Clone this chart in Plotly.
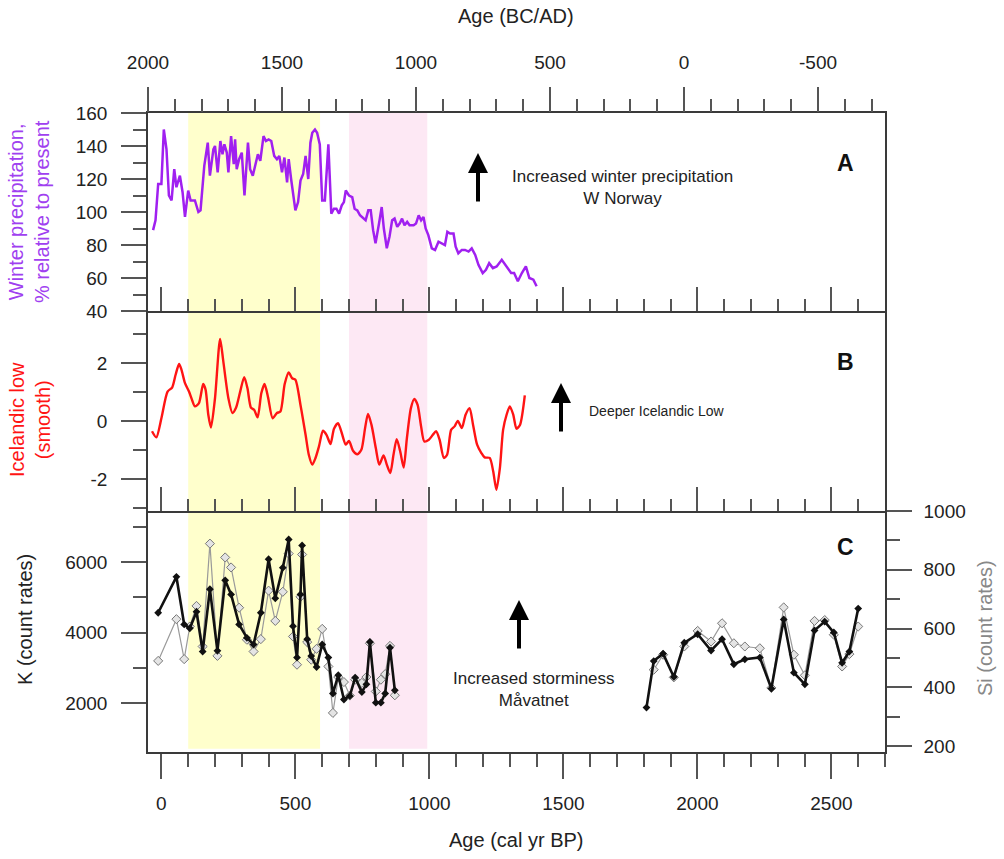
import plotly.graph_objects as go

# ---------------- data ----------------
# Panel A: winter precipitation (% relative to present)
age_a = [-31, -22, -12, 0, 9, 19, 28, 38, 48, 56,
         69, 79, 88, 100, 109, 125, 138, 146, 160, 173,
         181, 194, 200, 210, 220, 228, 235, 244, 250, 260,
         270, 275, 281, 290, 300, 310, 323, 331, 341, 350,
         360, 369, 381, 390, 400, 410, 421, 431, 440, 450,
         459, 469, 475, 484, 491, 500, 510, 519, 529, 538,
         548, 556, 563, 573, 581, 591, 600, 610, 623, 634,
         644, 653, 663, 673, 681,
         688, 700, 712, 721, 731, 741, 749, 762, 772, 781,
         790, 799, 812, 822, 830, 841, 851, 861, 870, 880,
         889, 898, 907, 917, 926, 941, 950, 960, 969, 978,
         986, 996, 1009, 1021, 1034, 1046, 1058, 1067, 1077, 1090,
         1098, 1108, 1121, 1133, 1146, 1158, 1171, 1183, 1199, 1211,
         1223, 1237, 1251, 1270, 1282, 1295, 1305, 1316, 1330, 1345,
         1360, 1373, 1388, 1400]
precip_a = [89, 95, 117, 117, 150, 138, 110, 107, 126, 115,
            122, 112, 97, 113, 107, 107, 100, 101, 128, 142,
            122, 138, 140, 124, 143, 135, 141, 136, 124, 146,
            129, 144, 126, 132, 136, 110, 142, 126, 122, 129,
            135, 131, 146, 143, 144, 143, 134, 132, 134, 124,
            133, 118, 132, 120, 110, 101, 106, 119, 123, 134,
            120, 142, 148, 150, 148, 141, 107, 107, 141, 99,
            102, 102, 99, 104, 106,
            113, 110, 109, 102, 101, 98, 97, 95, 101, 101,
            89, 81, 93, 103, 90, 78, 85, 95, 96, 91,
            93, 96, 92, 94, 92, 92, 93, 98, 95, 97,
            90, 86, 78, 77, 82, 81, 80, 88, 87, 87,
            79, 75, 77, 77, 76, 78, 74, 68, 63, 65,
            69, 66, 67, 71, 68, 65, 63, 63, 58, 63,
            67, 60, 59, 55]

# Panel B: Icelandic low (smooth)
age_b = [-35, -19, 0, 23, 40, 53, 66, 75, 88, 103,
         113, 125, 140, 156, 165, 175, 185, 200, 219, 231,
         250, 265, 278, 294, 309, 321, 334, 346, 359, 373,
         385, 398, 415, 431, 444, 460, 475, 488, 500, 519,
         538, 550, 563, 575, 588, 603, 616, 631, 644, 659,
         673, 688, 700, 715, 731, 746, 760, 771, 784, 800,
         813, 829, 841, 854, 866, 878, 891, 904, 916, 931,
         944, 956, 969, 981, 998, 1013, 1025, 1038, 1054, 1066,
         1081, 1094, 1106, 1121, 1135, 1150, 1163, 1178, 1194, 1206,
         1225, 1238, 1250, 1263, 1275, 1288, 1300, 1313, 1325, 1338,
         1356]
icl_b = [-0.34, -0.55, 0.11, 1.03, 1.17, 1.61, 1.98, 1.78, 1.32, 1.03,
         0.78, 0.52, 0.63, 1.29, 1.09, 0.23, -0.21, 0.80, 2.85, 2.07,
         0.80, 0.29, 0.46, 1.03, 1.53, 1.15, 0.48, 0.40, 0.14, 0.98,
         1.29, 0.83, 0.11, 0.29, 0.34, 1.29, 1.69, 1.49, 1.44, 0.57,
         -0.46, -1.15, -1.49, -1.26, -0.86, -0.32, -0.46, -0.78, -0.25, -0.06,
         -0.40, -0.80, -0.67, -1.01, -1.13, -0.98, -0.23, 0.26, -0.12, -0.92,
         -1.49, -1.17, -1.49, -1.78, -1.15, -0.61, -1.03, -1.59, -0.58, 0.46,
         0.78, 0.57, -0.17, -0.69, -0.63, -0.46, -0.34, -0.63, -1.26, -1.15,
         -0.29, -0.17, 0.02, -0.23, 0.23, 0.46, -0.12, -0.80, -1.09, -1.24,
         -1.26, -1.72, -2.36, -1.61, -0.29, 0.23, 0.52, 0.23, -0.25, -0.12,
         0.90]

# Panel C: K and Si count rates (two core sections)
age_c1 = [-12, 56, 85, 106, 131, 154, 181, 209, 238, 260,
          290, 319, 344, 371, 400, 425, 453, 475, 491, 506,
          519, 525, 544, 559, 579, 600, 623, 640, 660, 681,
          703, 723, 748, 765, 778, 800, 819, 835, 853, 871]
k_c1 = [4560, 5580, 4230, 4120, 4590, 3460, 5230, 3480, 5480, 5080,
        4230, 3850, 3660, 4560, 6080, 4970, 5840, 6640, 4180, 3290,
        5080, 6470, 3810, 3330, 3020, 3660, 3290, 2270, 2790, 2100,
        2200, 2720, 2310, 2530, 3730, 2010, 2010, 2270, 3570, 2360]
si_c1 = [490, 632, 496, 607, 677, 539, 889, 507, 842, 808,
         671, 562, 522, 564, 729, 626, 725, 855, 573, 477,
         708, 852, 554, 494, 531, 599, 471, 313, 435, 418,
         372, 426, 415, 435, 550, 386, 426, 445, 541, 373]

age_c2 = [1810, 1837, 1872, 1912, 1951, 2001, 2051, 2092, 2136, 2177,
          2233, 2276, 2322, 2360, 2401, 2437, 2475, 2509, 2540, 2567,
          2600]
k_c2 = [1870, 3190, 3400, 2740, 3710, 3950, 3490, 3810, 3100, 3240,
        3290, 2410, 4370, 2860, 2530, 4060, 4310, 4000, 3140, 3460,
        4680]
age_si2 = age_c2[1:]
si_c2 = [460, 511, 434, 539, 592, 556, 618, 550, 539, 533,
         398, 672, 511, 441, 626, 629, 579, 471, 513, 607]

# Shaded periods (cal yr BP)
yellow_period = [100, 592]
pink_period = [700, 992]

# Tick labels
ad_ticks = [2000, 1500, 1000, 500, 0, -500]
ad_labels = ["2000", "1500", "1000", "500", "0", "-500"]
icl_ticks = [-2, 0, 2]
icl_labels = ["-2", "0", "2"]

# ---------------- figure ----------------
FONT = "Liberation Sans, Arial, sans-serif"
LINEC = "#3a3a3a"
TICKC = "#555"
PURPLE = "#A020F0"
RED = "#FF1414"
TICKFS = 19

W, H = 1004, 859
L, R, T, B = 148, 885, 113, 752


def px(xp):
    return (xp - L) / (R - L)


def py(yp):
    return (B - yp) / (B - T)


dA = [py(311), 1.0]
dB = [py(511), py(311)]
dC = [0.0, py(511)]

fig = go.Figure()

fig.add_trace(go.Scatter(x=age_a, y=precip_a, mode="lines",
                         line=dict(color=PURPLE, width=2.5),
                         xaxis="x2", yaxis="y", hoverinfo="skip"))
fig.add_trace(go.Scatter(x=age_b, y=icl_b, mode="lines",
                         line=dict(color=RED, width=2.4, shape="spline", smoothing=0.7),
                         xaxis="x3", yaxis="y2", hoverinfo="skip"))

si_x = age_c1 + [None] + age_si2
si_y = si_c1 + [None] + si_c2
k_x = age_c1 + [None] + age_c2
k_y = k_c1 + [None] + k_c2

fig.add_trace(go.Scatter(x=si_x, y=si_y, mode="lines+markers",
                         line=dict(color="#9a9a9a", width=1.2),
                         marker=dict(symbol="diamond", size=7, color="#e4e4e4",
                                     line=dict(color="#777", width=1)),
                         connectgaps=False, xaxis="x", yaxis="y3", hoverinfo="skip"))
fig.add_trace(go.Scatter(x=k_x, y=k_y, mode="lines+markers",
                         line=dict(color="#111", width=2.6),
                         marker=dict(symbol="diamond", size=6, color="#111"),
                         connectgaps=False, xaxis="x", yaxis="y4", hoverinfo="skip"))
# empty trace so the top (BC/AD) axis is drawn
fig.add_trace(go.Scatter(x=[], y=[], xaxis="x4", yaxis="y", showlegend=False, hoverinfo="skip"))

common_line = dict(showline=True, linecolor=LINEC, linewidth=1.5, showgrid=False,
                   zeroline=False, tickcolor=TICKC, tickwidth=1.5,
                   tickfont=dict(family=FONT, size=TICKFS, color="#222"))


def minor(dt, inside=False, ln=13, **kw):
    return dict(dtick=dt, tick0=0, ticks="inside" if inside else "outside", ticklen=ln,
                tickcolor=TICKC, tickwidth=1.5, **kw)


xrange_bp = [-50, 2700]

fig.update_layout(
    width=W, height=H,
    margin=dict(l=L, r=W - R, t=T, b=H - B),
    paper_bgcolor="white", plot_bgcolor="rgba(0,0,0,0)",
    showlegend=False,
    font=dict(family=FONT, color="#222"),
    xaxis=dict(domain=[0, 1], anchor="y3", range=xrange_bp, tick0=0, dtick=500,
               ticks="outside", ticklen=25, mirror=False, ticklabelstandoff=8,
               minor=minor(100), **common_line),
    xaxis2=dict(domain=[0, 1], anchor="y", range=xrange_bp, tick0=0, dtick=500,
                ticks="inside", ticklen=24, mirror=True, showticklabels=False,
                minor=minor(100, inside=True, ln=12), **common_line),
    xaxis3=dict(domain=[0, 1], anchor="y2", range=xrange_bp, tick0=0, dtick=500,
                ticks="inside", ticklen=24, mirror=False, showticklabels=False,
                minor=minor(100, inside=True, ln=12), **common_line),
    xaxis4=dict(overlaying="x2", anchor="y", side="top",
                range=[1950 - xrange_bp[0], 1950 - xrange_bp[1]],
                tickmode="array", tickvals=ad_ticks, ticktext=ad_labels,
                ticks="outside", ticklen=25, ticklabelstandoff=10,
                minor=minor(100),
                showline=False, showgrid=False, zeroline=False,
                tickcolor=TICKC, tickwidth=1.5,
                tickfont=dict(family=FONT, size=TICKFS, color="#222")),
    yaxis=dict(domain=dA, anchor="x2", range=[40, 160], tick0=0, dtick=20,
               ticks="outside", ticklen=25, mirror=True, ticklabelstandoff=10,
               minor=minor(10), **common_line),
    yaxis2=dict(domain=dB, anchor="x3", range=[-3.09, 3.81],
                tickmode="array", tickvals=icl_ticks, ticktext=icl_labels,
                ticks="outside", ticklen=25, mirror=True, ticklabelstandoff=10,
                minor=minor(1), **common_line),
    yaxis3=dict(domain=dC, anchor="x", side="right", range=[180, 1000], tick0=0, dtick=200,
                ticks="outside", ticklen=25, ticklabelstandoff=8,
                minor=minor(100), **common_line),
    yaxis4=dict(overlaying="y3", anchor="x", side="left", range=[610, 7447],
                tickmode="array", tickvals=[2000, 4000, 6000],
                ticks="outside", ticklen=25, ticklabelstandoff=10,
                minor=dict(tickmode="array", tickvals=[3000, 5000, 7000],
                           ticks="outside", ticklen=13, tickcolor=TICKC, tickwidth=1.5),
                **common_line),
)

# shaded periods
for (x0, x1), col in [(yellow_period, "#FFFFCC"), (pink_period, "#FDE8F4")]:
    fig.add_shape(type="rect", xref="x", yref="paper", x0=x0, x1=x1, y0=0.005, y1=1,
                  fillcolor=col, line=dict(width=0), layer="below")

ann = []


def text(t, xp, yp, size=17, color="#222", angle=0, xanchor="center", bold=False):
    ann.append(dict(text=("<b>%s</b>" % t) if bold else t, x=px(xp), y=py(yp),
                    xref="paper", yref="paper", showarrow=False, textangle=angle,
                    xanchor=xanchor, yanchor="middle",
                    font=dict(family=FONT, size=size, color=color)))


text("Age (BC/AD)", 516, 16, size=20)
text("Age (cal yr BP)", 516, 840, size=20)
text("Winter precipitation,<br>% relative to present", 29, 212, size=20, color="#A040F0", angle=-90)
text("Icelandic low<br>(smooth)", 30, 420, size=20, color=RED, angle=-90)
text("K (count rates)", 25, 620, size=20, color="#222", angle=-90)
text("Si (count rates)", 985, 628, size=20, color="#888", angle=-90)
text("A", 845, 163, size=23, color="#111", bold=True)
text("B", 845, 362, size=23, color="#111", bold=True)
text("C", 845, 547, size=23, color="#111", bold=True)
text("Increased winter precipitation<br>W Norway", 622, 187, size=17)
text("Deeper Icelandic Low", 587, 411, size=14, xanchor="left")
text("Increased storminess<br>Måvatnet", 534, 689, size=17)

for hx, hy in [(478, 153), (561, 383), (519, 600)]:
    ann.append(dict(text="", x=px(hx), y=py(hy), xref="paper", yref="paper",
                    showarrow=True, ax=0, ay=50, axref="pixel", ayref="pixel",
                    arrowhead=2, arrowsize=1, arrowwidth=4, arrowcolor="#000", standoff=0))

fig.update_layout(annotations=ann)

fig.write_html("out.html")
